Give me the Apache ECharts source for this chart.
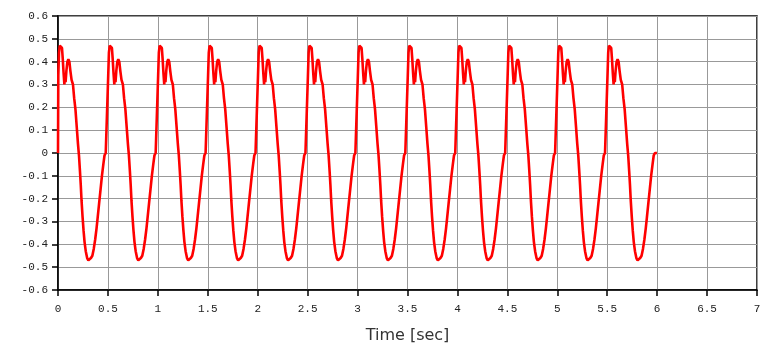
<!DOCTYPE html>
<html>
<head>
<meta charset="utf-8">
<script src="https://cdn.jsdelivr.net/npm/echarts@6/dist/echarts.min.js"></script>
<style>
  html, body { margin: 0; padding: 0; background: #fff; }
  #echarts-time-signal { width: 775px; height: 343px; }
</style>
</head>
<body>
<div id="echarts-time-signal"></div>
<script>
//----------------------Data----------------------
// one period of the signal (offset inside the period, value)
let wave_offset = [
    0.000, 0.003, 0.010, 0.018, 0.030, 0.040, 0.048, 0.056, 0.064, 0.070,
    0.076, 0.084, 0.094, 0.104, 0.114, 0.124, 0.136, 0.150, 0.162, 0.175,
    0.190, 0.200, 0.210, 0.220, 0.228, 0.236, 0.246, 0.256, 0.266, 0.278,
    0.292, 0.304, 0.316, 0.330, 0.344, 0.358, 0.372, 0.386, 0.398, 0.412,
    0.426, 0.440, 0.454, 0.466, 0.478, 0.498
];
let wave_value = [
    0.00, 0.34, 0.44, 0.47, 0.475, 0.46, 0.41, 0.35, 0.30, 0.35,
    0.31, 0.36, 0.40, 0.41, 0.40, 0.36, 0.32, 0.30, 0.24, 0.19,
    0.10, 0.04, -0.01, -0.08, -0.14, -0.21, -0.28, -0.34, -0.39, -0.43,
    -0.46, -0.47, -0.475, -0.46, -0.45, -0.42, -0.38, -0.33, -0.28, -0.22,
    -0.16, -0.10, -0.05, -0.01, 0.00, 0.00
];
// start time of each recorded period
let period_start = [0, 0.5, 1, 1.5, 2, 2.5, 3, 3.5, 4, 4.5, 5, 5.5];
let x_ticks = ['0', '0.5', '1', '1.5', '2', '2.5', '3', '3.5', '4', '4.5', '5', '5.5', '6', '6.5', '7'];
//--------------------Build series--------------------
let signal_data = [];
for (let p = 0; p < period_start.length; p++) {
    for (let k = 0; k < wave_offset.length; k++) {
        signal_data.push([+(period_start[p] + wave_offset[k]).toFixed(3), wave_value[k]]);
    }
}
//------------------Generate Graph------------------
let chart_dom = document.getElementById("echarts-time-signal");
let chart = echarts.init(chart_dom, null, {renderer: 'canvas'});
let label_font = {fontFamily: 'Liberation Mono', fontSize: 11, color: '#222'};
let option = {
    backgroundColor: '#fff',
    animation: false,
    grid: {
        left: 58, right: 18, top: 16, bottom: 53,
        outerBoundsMode: 'none', containLabel: false,
        show: true, borderColor: '#000', borderWidth: 1.5
    },
    xAxis: {
        type: 'value', min: 0, max: 7, interval: 0.5,
        name: 'Time [sec]', nameLocation: 'middle', nameGap: 38,
        nameTextStyle: {fontFamily: 'DejaVu Sans', fontSize: 16, color: '#333'},
        axisLine: {show: true, onZero: false, lineStyle: {color: '#000', width: 1.5}},
        axisTick: {show: true, length: 6, lineStyle: {color: '#000', width: 1.5}},
        axisLabel: Object.assign({margin: 14, formatter: function (v) {
            let i = Math.round(v / 0.5);
            return x_ticks[i] !== undefined ? x_ticks[i] : '';
        }}, label_font),
        splitLine: {show: true, lineStyle: {color: '#999', width: 1}}
    },
    yAxis: {
        type: 'value', min: -0.6, max: 0.6, interval: 0.1,
        axisLine: {show: true, onZero: false, lineStyle: {color: '#000', width: 1.5}},
        axisTick: {show: true, length: 6, lineStyle: {color: '#000', width: 1.5}},
        axisLabel: Object.assign({margin: 10, formatter: function (v) {
            return (+v.toFixed(1)).toString();
        }}, label_font),
        splitLine: {show: true, lineStyle: {color: '#999', width: 1}}
    },
    series: [{
        type: 'line',
        data: signal_data,
        showSymbol: false,
        lineStyle: {color: '#f00', width: 2.6},
        z: 3
    }]
};
chart.setOption(option, true);
</script>
</body>
</html>
